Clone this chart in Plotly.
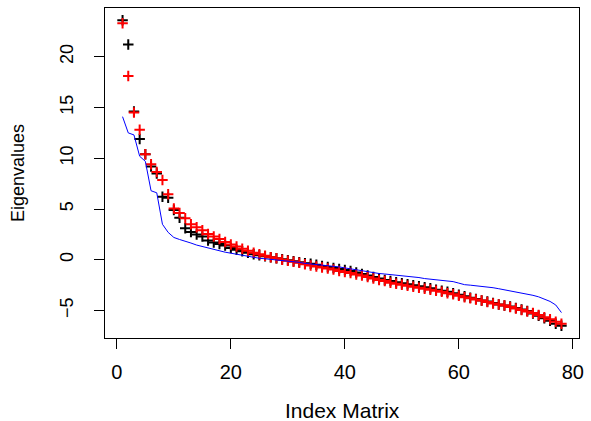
import plotly.graph_objects as go

index = list(range(1, 79))

black_vals = [23.6, 21.2, 14.6, 11.9, 10.4, 9.2, 8.5, 6.2, 6.1, 4.9,
              4.15, 3.1, 2.75, 2.5, 2.3, 1.9, 1.7, 1.55, 1.4, 1.15,
              1.0, 0.85, 0.7, 0.55, 0.45, 0.35, 0.25, 0.15, 0.05, -0.05,
              -0.15, -0.25, -0.33, -0.4, -0.5, -0.6, -0.7, -0.8, -0.9, -1.0,
              -1.1, -1.25, -1.4, -1.55, -1.7, -1.85, -2.0, -2.1, -2.2, -2.3,
              -2.4, -2.5, -2.6, -2.7, -2.8, -2.95, -3.05, -3.15, -3.3, -3.45,
              -3.6, -3.75, -3.85, -4.0, -4.1, -4.25, -4.4, -4.5, -4.6, -4.75,
              -4.9, -5.05, -5.3, -5.5, -5.75, -6.0, -6.3, -6.5]

red_vals = [23.3, 18.1, 14.5, 12.8, 10.4, 9.4, 8.65, 7.85, 6.45, 5.05,
            4.6, 4.1, 3.5, 3.2, 2.9, 2.55, 2.3, 2.05, 1.75, 1.5,
            1.3, 1.1, 0.9, 0.7, 0.55, 0.4, 0.25, 0.15, 0.0, -0.1,
            -0.2, -0.3, -0.45, -0.55, -0.65, -0.75, -0.85, -0.95, -1.1, -1.2,
            -1.3, -1.45, -1.55, -1.7, -1.85, -2.0, -2.1, -2.25, -2.35, -2.45,
            -2.55, -2.65, -2.75, -2.85, -2.95, -3.05, -3.15, -3.3, -3.4, -3.55,
            -3.7, -3.8, -3.9, -4.0, -4.15, -4.3, -4.4, -4.5, -4.65, -4.8,
            -4.95, -5.1, -5.25, -5.45, -5.65, -5.85, -6.1, -6.3]

blue_vals = [14.1, 12.5, 12.3, 10.2, 9.7, 6.8, 6.6, 3.5, 2.7, 2.2,
             2.0, 1.85, 1.65, 1.45, 1.3, 1.15, 1.0, 0.9, 0.75, 0.65,
             0.55, 0.45, 0.35, 0.2, 0.15, 0.1, 0.05, 0.0, -0.05, -0.1,
             -0.2, -0.25, -0.35, -0.4, -0.45, -0.5, -0.55, -0.6, -0.7, -0.8,
             -0.9, -1.0, -1.1, -1.2, -1.3, -1.35, -1.4, -1.45, -1.5, -1.55,
             -1.6, -1.65, -1.75, -1.85, -1.9, -1.95, -2.0, -2.05, -2.15, -2.3,
             -2.45, -2.5, -2.55, -2.6, -2.65, -2.75, -2.85, -2.95, -3.05, -3.15,
             -3.3, -3.4, -3.5, -3.65, -3.85, -4.1, -4.45, -5.2]

x_ticks = [0, 20, 40, 60, 80]
y_ticks = [-5, 0, 5, 10, 15, 20]

FONT = "Liberation Sans, Arial, Helvetica, sans-serif"

fig = go.Figure()
fig.add_trace(go.Scatter(
    x=index, y=black_vals, mode="markers",
    marker=dict(symbol="cross-thin", size=7.5, color="black",
                line=dict(color="black", width=2)),
    showlegend=False))
fig.add_trace(go.Scatter(
    x=index, y=red_vals, mode="markers",
    marker=dict(symbol="cross-thin", size=7.5, color="red",
                line=dict(color="red", width=2)),
    showlegend=False))
fig.add_trace(go.Scatter(
    x=index, y=blue_vals, mode="lines",
    line=dict(color="blue", width=1),
    showlegend=False))

n = len(index)
xr = (n - 1) * 0.04
allv = black_vals + red_vals + blue_vals
ymin, ymax = min(allv), max(allv)
yr = (ymax - ymin) * 0.04

fig.update_layout(
    width=591, height=421,
    margin=dict(l=105, r=7, t=7, b=83),
    paper_bgcolor="white", plot_bgcolor="white",
    font=dict(family=FONT, size=16, color="black"),
    xaxis=dict(range=[1 - xr, n + xr], tickvals=x_ticks,
               ticktext=[str(v) for v in x_ticks],
               tickfont=dict(family=FONT, size=20),
               showgrid=False, zeroline=False,
               showline=True, linecolor="black", linewidth=1, mirror=True,
               ticks="outside", ticklen=10, tickcolor="black", tickwidth=1,
               ticklabelstandoff=6),
    yaxis=dict(range=[ymin - yr, ymax + yr], tickvals=y_ticks,
               ticktext=[("\u2212" + str(-v)) if v < 0 else str(v) for v in y_ticks],
               tickfont=dict(family=FONT, size=18),
               tickangle=-90,
               showgrid=False, zeroline=False,
               showline=True, linecolor="black", linewidth=1, mirror=True,
               ticks="outside", ticklen=10, tickcolor="black", tickwidth=1,
               ticklabelstandoff=14),
    annotations=[
        dict(text="Index Matrix", xref="paper", yref="paper", x=0.5, y=0,
             xanchor="center", yanchor="middle", yshift=-72, showarrow=False,
             font=dict(family=FONT, size=21)),
        dict(text="Eigenvalues", xref="paper", yref="paper", x=0, y=0.5,
             xanchor="center", yanchor="middle", xshift=-87, textangle=-90,
             showarrow=False, font=dict(family=FONT, size=18)),
    ],
)

fig.write_html("out.html",
               config={"displayModeBar": False},
               post_script="document.body.style.margin='0';document.body.style.overflow='hidden';")
